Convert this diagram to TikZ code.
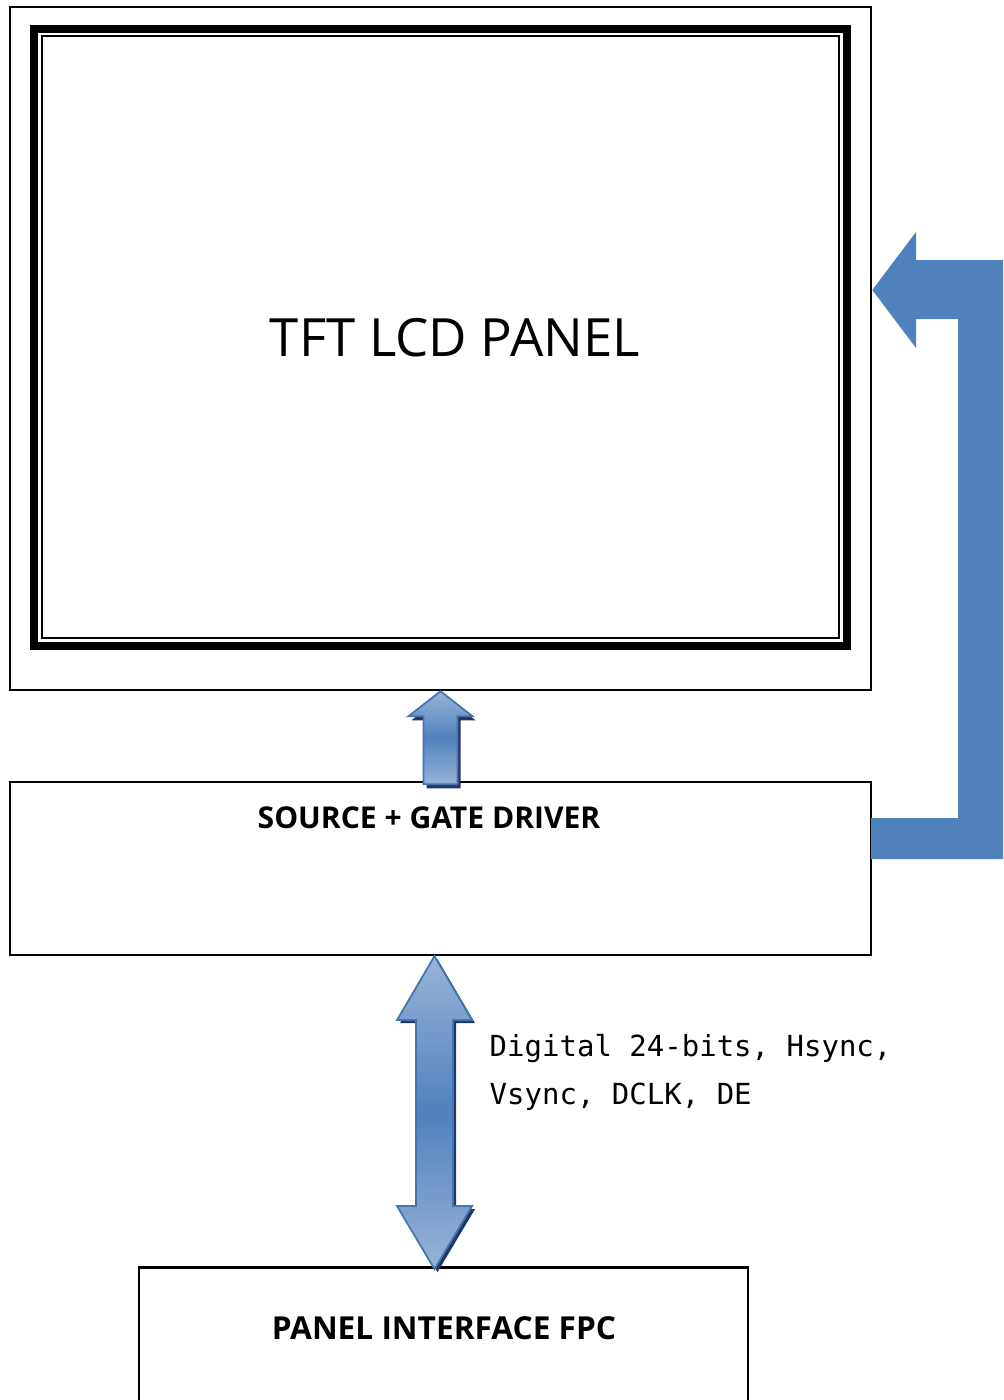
\documentclass[tikz,border=0pt]{standalone}
\usepackage{fontspec}
\setmainfont{Open Sans}
\newfontfamily\monofont{DejaVu Sans Mono}
\usetikzlibrary{calc}
\definecolor{myblue}{RGB}{79,129,189}
\definecolor{lightblue}{RGB}{152,180,218}
\definecolor{edgeblue}{RGB}{72,116,172}
\definecolor{shadowblue}{RGB}{32,56,100}
\tikzset{
  box/.style={rectangle, draw=black, line width=0.6pt, inner sep=0pt},
  boxtext/.style={font=\bfseries\fontsize{8.7}{10}\selectfont, inner sep=0pt},
  blockarrow/.style={draw=edgeblue, line width=0.5pt, top color=lightblue,
    bottom color=lightblue, middle color=myblue},
  arrowshadow/.style={fill=shadowblue},
  bigarrow/.style={fill=myblue}
}

\begin{document}
\begin{tikzpicture}[x=0.01cm, y=-0.01cm]
  \useasboundingbox (0,0) rectangle (1003,1400);
  \clip (0,0) rectangle (1003,1400);
  \fill[white] (0,0) rectangle (1003,1400);
  % panel with its frame
  \node[box, minimum width=8.61cm, minimum height=6.83cm] (panel) at (440.5,348.5) {};
  \node[box, line width=0.08cm, minimum width=8.12cm, minimum height=6.17cm] (frame) at (440.5,337.5) {};
  \node[box, minimum width=7.97cm, minimum height=6.015cm] (screen) at (440.5,337.25) {};
  \node[inner sep=0pt, font=\fontsize{15}{18}\selectfont] (paneltext) at (455,338) {TFT LCD PANEL};
  % driver and fpc
  \node[box, minimum width=8.61cm, minimum height=1.73cm] (drv) at (440.5,868.5) {};
  \node[boxtext, font=\bfseries\fontsize{8.55}{10}\selectfont] (drvtext) at (429,818) {SOURCE + GATE DRIVER};
  \node[box, minimum width=6.09cm, minimum height=1.525cm] (fpc) at (443.5,1343.75) {};
  \node[boxtext, font=\bfseries\fontsize{9}{10}\selectfont] (fpctext) at (444,1328) {PANEL INTERFACE FPC};
  % driver -> panel
  \fill[arrowshadow] ($(panel.south)+(3,4)$) -- ++(32,25) -- ++(-15,0) -- ++(0,68)
    -- ++(-34,0) -- ++(0,-68) -- ++(-15,0) -- cycle;
  \draw[blockarrow] (panel.south) -- ++(32,25) -- ++(-15,0) -- ++(0,68)
    -- ++(-34,0) -- ++(0,-68) -- ++(-15,0) -- cycle;
  % fpc <-> driver
  \fill[arrowshadow] ($(drv.south)+(-3,3)$) -- ++(37.5,64) -- ++(-19,0) -- ++(0,186)
    -- ++(19,0) -- ++(-37.5,63) -- ++(-37.5,-63) -- ++(19,0) -- ++(0,-186)
    -- ++(-19,0) -- cycle;
  \draw[blockarrow] ($(drv.south)+(-6,0)$) -- ++(37.5,64) -- ++(-19,0) -- ++(0,186)
    -- ++(19,0) -- ++(-37.5,63) -- ++(-37.5,-63) -- ++(19,0) -- ++(0,-186)
    -- ++(-19,0) -- cycle;
  \node[inner sep=0pt, anchor=base west, align=left,
    font=\monofont\fontsize{8.25}{13.6}\selectfont] (sigtext) at (489,1104)
    {Digital 24-bits, Hsync,\\Vsync, DCLK, DE};
  % driver -> panel, outside
  \fill[bigarrow] (871,818) -- (958,818) -- (958,319) -- (916,319)
    -- (916,348) -- (panel.east |- 0,290) -- (916,232) -- (916,260) -- (1010,260)
    -- (1010,859) -- (871,859) -- cycle;
\end{tikzpicture}
\end{document}
